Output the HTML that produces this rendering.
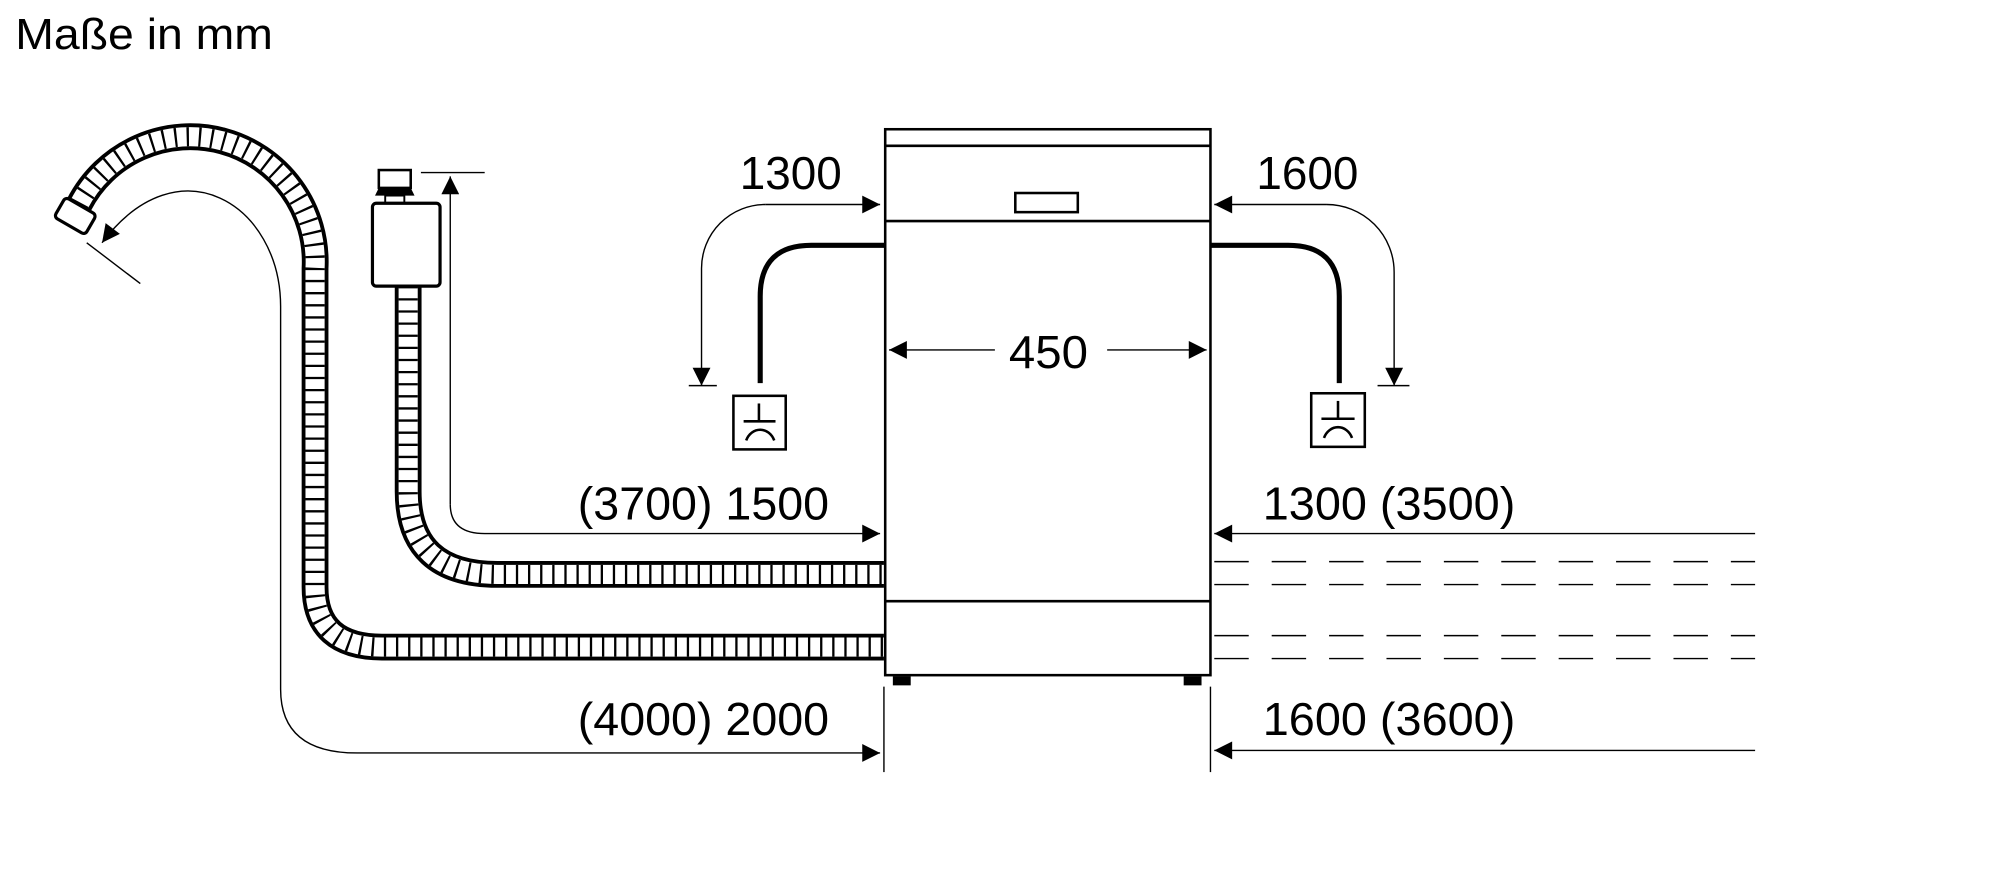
<!DOCTYPE html>
<html><head><meta charset="utf-8"><style>html,body{margin:0;padding:0;background:#fff}svg{display:block}</style></head><body>
<svg width="2000" height="872" viewBox="0 0 1568 683" xmlns="http://www.w3.org/2000/svg" font-family="Liberation Sans, sans-serif">
<defs>
<marker id="a" viewBox="0 0 10 10" refX="10" refY="5" markerWidth="20" markerHeight="14" markerUnits="userSpaceOnUse" orient="auto"><path d="M0,0 L10,5 L0,10 z" fill="#000"/></marker>
</defs>
<rect width="1568" height="683" fill="#fff"/>
<text x="12" y="38" font-size="34" textLength="202" lengthAdjust="spacingAndGlyphs">Maße in mm</text>

<!-- hoses -->
<g fill="none">
<path d="M62,160 A98 98 0 0 1 247 210 L247 460 Q247 507 300 507 L693 507" stroke="#000" stroke-width="21"/>
<path d="M62,160 A98 98 0 0 1 247 210 L247 460 Q247 507 300 507 L693 507" stroke="#fff" stroke-width="15"/>
<path d="M62,160 A98 98 0 0 1 247 210 L247 460 Q247 507 300 507 L693 507" stroke="#000" stroke-width="15" stroke-dasharray="1.8 7.7"/>
<path d="M320,224 L320,385 Q320 450 390 450 L693 450" stroke="#000" stroke-width="21"/>
<path d="M320,224 L320,385 Q320 450 390 450 L693 450" stroke="#fff" stroke-width="15"/>
<path d="M320,224 L320,385 Q320 450 390 450 L693 450" stroke="#000" stroke-width="15" stroke-dasharray="1.8 7.7"/>
</g>
<rect x="45" y="160" width="28" height="18" rx="3" transform="rotate(30 59 169)" fill="#fff" stroke="#000" stroke-width="2.5"/>
<rect x="297" y="133" width="25" height="14" fill="#fff" stroke="#000" stroke-width="2"/>
<path d="M294,153 L325,153 L322,147 L297,147 z" fill="#000"/>
<rect x="302" y="153" width="15" height="6" fill="#fff" stroke="#000" stroke-width="1.5"/>
<rect x="292" y="159" width="53" height="65" rx="3" fill="#fff" stroke="#000" stroke-width="2.5"/>

<!-- appliance -->
<g fill="none" stroke="#000" stroke-width="2">
<rect x="694" y="101" width="255" height="428" fill="#fff"/>
<line x1="694" y1="114" x2="949" y2="114"/>
<line x1="694" y1="173" x2="949" y2="173"/>
<line x1="694" y1="471" x2="949" y2="471"/>
<rect x="796" y="151" width="49" height="15"/>
</g>
<rect x="700" y="530" width="14" height="7" fill="#000"/>
<rect x="928" y="530" width="14" height="7" fill="#000"/>

<!-- thin dimension lines -->
<g fill="none" stroke="#000" stroke-width="1.1">
<line x1="330" y1="135" x2="380" y2="135"/>
<path d="M353,395 L353,138" marker-end="url(#a)"/>
<path d="M353,395 Q353 418 380 418 L690 418" marker-end="url(#a)"/>
<path d="M220,240 C220 160 140 110 80 190" marker-end="url(#a)"/>
<path d="M220,240 L220,540 Q220 590 280 590 L690 590" marker-end="url(#a)"/>
<line x1="68" y1="190" x2="110" y2="222"/>
<line x1="693" y1="538" x2="693" y2="605"/>
<line x1="949" y1="538" x2="949" y2="605"/>
<path d="M600,160 L690,160" marker-end="url(#a)"/>
<path d="M600,160 A50 50 0 0 0 550 210 L550 302" marker-end="url(#a)"/>
<line x1="540" y1="302" x2="562" y2="302"/>
<path d="M1040,160 L952,160" marker-end="url(#a)"/>
<path d="M1040,160 A53 53 0 0 1 1093 213 L1093 302" marker-end="url(#a)"/>
<line x1="1080" y1="302" x2="1105" y2="302"/>
<path d="M780,274 L697,274" marker-end="url(#a)"/>
<path d="M868,274 L946,274" marker-end="url(#a)"/>
<path d="M1376,418 L952,418" marker-end="url(#a)"/>
<path d="M1376,588 L952,588" marker-end="url(#a)"/>
<g stroke-dasharray="27 18">
<line x1="952" y1="440" x2="1376" y2="440"/>
<line x1="952" y1="458" x2="1376" y2="458"/>
<line x1="952" y1="498" x2="1376" y2="498"/>
<line x1="952" y1="516" x2="1376" y2="516"/>
</g>
</g>

<!-- pipes -->
<g fill="none" stroke="#000" stroke-width="4">
<path d="M694,192 L636,192 Q596 192 596 232 L596 300"/>
<path d="M949,192 L1010,192 Q1050 192 1050 232 L1050 300"/>
</g>
<g fill="none" stroke="#000" stroke-width="2">
<rect x="575" y="310" width="41" height="42"/>
<line x1="595" y1="316" x2="595" y2="330"/>
<line x1="583" y1="330" x2="608" y2="330"/>
<path d="M585,345 A12 14 0 0 1 607 345"/>
<rect x="1028" y="308" width="42" height="42"/>
<line x1="1049" y1="314" x2="1049" y2="328"/>
<line x1="1036" y1="328" x2="1062" y2="328"/>
<path d="M1038,343 A12 14 0 0 1 1060 343"/>
</g>

<g font-size="36" fill="#000">
<text x="580" y="148" textLength="80" lengthAdjust="spacingAndGlyphs">1300</text>
<text x="985" y="148" textLength="80" lengthAdjust="spacingAndGlyphs">1600</text>
<text x="791" y="288" textLength="62" lengthAdjust="spacingAndGlyphs">450</text>
<text x="453" y="407" textLength="197" lengthAdjust="spacingAndGlyphs">(3700) 1500</text>
<text x="990" y="407" textLength="198" lengthAdjust="spacingAndGlyphs">1300 (3500)</text>
<text x="453" y="576" textLength="197" lengthAdjust="spacingAndGlyphs">(4000) 2000</text>
<text x="990" y="576" textLength="198" lengthAdjust="spacingAndGlyphs">1600 (3600)</text>
</g>
</svg>
</body></html>
